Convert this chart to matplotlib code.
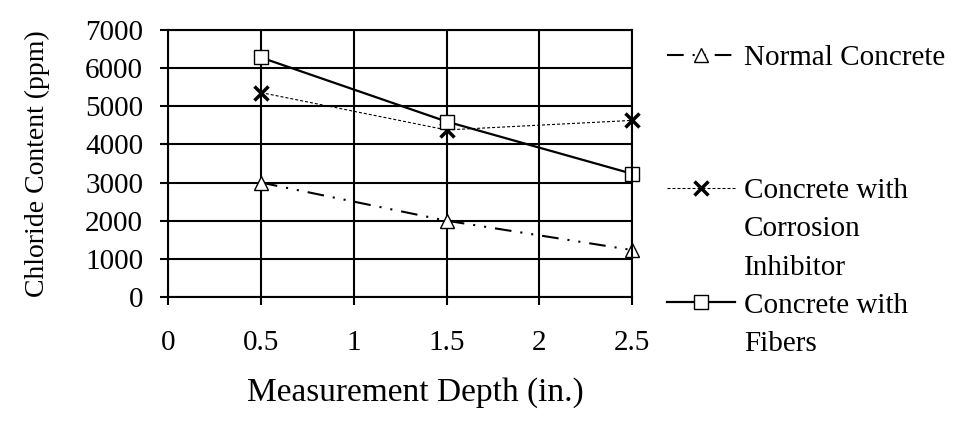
import matplotlib
matplotlib.use("Agg")
import matplotlib.pyplot as plt
from matplotlib.lines import Line2D

plt.rcParams["font.family"] = ["Liberation Serif", "DejaVu Serif"]
plt.rcParams["font.size"] = 21

depth = [0.5, 1.5, 2.5]
normal = [3000, 2000, 1230]
inhibitor = [5360, 4380, 4630]
fibers = [6280, 4600, 3230]

xticks = [0, 0.5, 1, 1.5, 2, 2.5]
yticks = [0, 1000, 2000, 3000, 4000, 5000, 6000, 7000]

fig = plt.figure(figsize=(9.55, 4.23), dpi=100)
ax = fig.add_axes([0.176, 0.298, 0.486, 0.631])

l1, = ax.plot(depth, normal, color="black", lw=1.5, dashes=(8, 4.3, 1, 4.3, 1, 4.3),
              marker="^", ms=10.5, mfc="white", mec="black", mew=1, clip_on=False)
l2, = ax.plot(depth, inhibitor, color="black", lw=0.8, dashes=(2.7, 1.8),
              marker="x", ms=10, mec="black", mew=2.5, clip_on=False)
l3, = ax.plot(depth, fibers, color="black", lw=1.6, ls="-",
              marker="s", ms=9.5, mfc="white", mec="black", mew=1, clip_on=False)

ax.set_xlim(0, 2.5)
ax.set_ylim(0, 7000)
ax.set_xticks(xticks)
ax.set_xticklabels(["0", "0.5", "1", "1.5", "2", "2.5"])
ax.set_yticks(yticks)
ax.grid(True, color="black", lw=1.5)
ax.set_axisbelow(True)
for s in ax.spines.values():
    s.set_linewidth(1.5)
ax.tick_params(direction="out", length=6, width=1.5, color="black")
ax.tick_params(axis="x", pad=18)
ax.tick_params(axis="y", pad=12)

ax.set_xlabel("Measurement Depth (in.)", fontsize=24)
ax.xaxis.set_label_coords(0.532, -0.30)
ax.set_ylabel("Chloride Content (ppm)", fontsize=20, labelpad=25)

blank = Line2D([], [], ls="none")
leg1 = fig.legend([l1], ["Normal Concrete"], loc="center left",
                  bbox_to_anchor=(0.698, 1 - 58 / 423), frameon=False,
                  handlelength=2.35, handletextpad=0.3, borderaxespad=0, borderpad=0)
leg2 = fig.legend([l2, blank, blank, l3, blank],
                  ["Concrete with", "Corrosion", "Inhibitor", "Concrete with", "Fibers"],
                  loc="upper left", bbox_to_anchor=(0.698, 1 - 178 / 423), frameon=False,
                  handlelength=2.35, handletextpad=0.3, labelspacing=0.40,
                  borderaxespad=0, borderpad=0)

fig.savefig("out.png", dpi=100)
